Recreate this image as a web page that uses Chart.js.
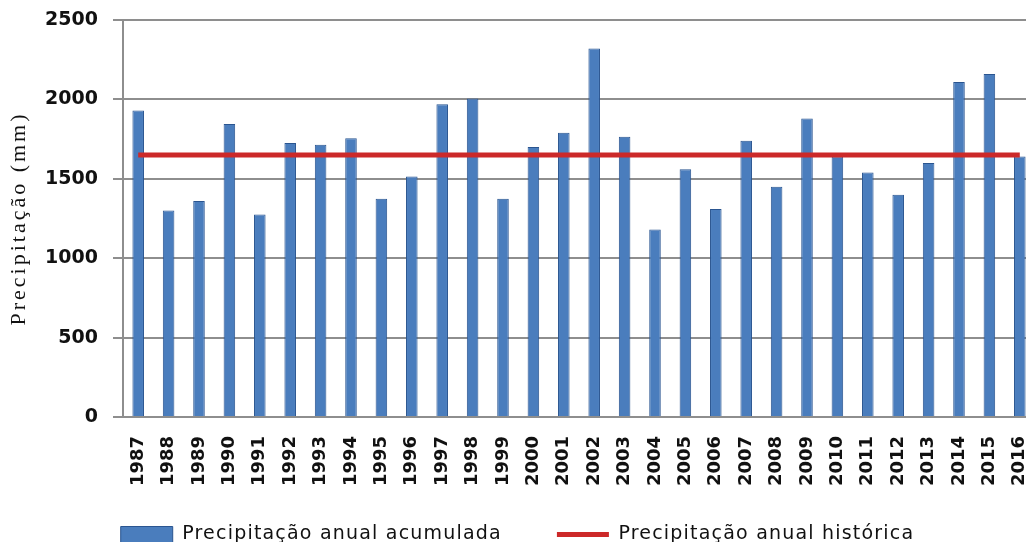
<!DOCTYPE html>
<html>
<head>
<meta charset="utf-8">
<script src="https://cdn.jsdelivr.net/npm/chart.js@4.4.1/dist/chart.umd.min.js"></script>
<style>
  html, body { margin: 0; padding: 0; background: #fff; width: 1026px; height: 542px; overflow: hidden; }
  canvas { display: block; }
</style>
</head>
<body>
<canvas id="chart" width="1040" height="554"></canvas>
<script>
// Annual rainfall, 1987–2016
const years = ['1987','1988','1989','1990','1991','1992','1993','1994','1995','1996',
               '1997','1998','1999','2000','2001','2002','2003','2004','2005','2006',
               '2007','2008','2009','2010','2011','2012','2013','2014','2015','2016'];

// accumulated annual precipitation (mm)
const accumulated = [1930, 1300, 1360, 1845, 1275, 1725, 1715, 1755, 1375, 1515,
                     1970, 2005, 1375, 1700, 1790, 2320, 1765, 1180, 1560, 1310,
                     1740, 1450, 1880, 1640, 1540, 1400, 1600, 2110, 2160, 1640];

// long-term (historical) annual mean (mm), one value per year
const historical = [1650, 1650, 1650, 1650, 1650, 1650, 1650, 1650, 1650, 1650,
                    1650, 1650, 1650, 1650, 1650, 1650, 1650, 1650, 1650, 1650,
                    1650, 1650, 1650, 1650, 1650, 1650, 1650, 1650, 1650, 1650];

const yTicks = [0, 500, 1000, 1500, 2000, 2500];

const BAR_FILL = '#4a7dbd';
const BAR_EDGE = '#2a5590';
const LINE_RED = '#cc2929';
const GRID = '#8e8e8e';
const TEXT = '#111111';

// run fn with a temporary canvas letter spacing
function withSpacing(ctx, spacing, fn) {
  const prev = ctx.letterSpacing;
  ctx.letterSpacing = spacing;
  try { return fn(); } finally { ctx.letterSpacing = prev || '0px'; }
}

// wider letter spacing for the y title and the legend; year labels may
// run into the (empty) upper part of the legend box
const textTweaks = {
  id: 'textTweaks',
  beforeUpdate(chart) {
    const lg = chart.legend;
    if (lg && !lg.__spaced) {
      const fit = lg.fit.bind(lg);
      const draw = lg.draw.bind(lg);
      lg.fit = () => withSpacing(chart.ctx, '1.2px', fit);
      lg.draw = () => withSpacing(chart.ctx, '1.2px', draw);
      lg.__spaced = true;
    }
  },
  beforeDraw(chart) {
    const y = chart.scales.y;
    if (y && !y.__spaced) {
      const drawTitle = y.drawTitle.bind(y);
      y.drawTitle = () => withSpacing(chart.ctx, '3px', drawTitle);
      y.__spaced = true;
    }
    const x = chart.scales.x;
    if (x) x._computeLabelArea = () => undefined;
  }
};

new Chart(document.getElementById('chart'), {
  data: {
    labels: years,
    datasets: [
      {
        type: 'bar',
        label: 'Precipitação anual acumulada',
        data: accumulated,
        backgroundColor: BAR_FILL,
        borderColor: BAR_EDGE,
        borderWidth: 1,
        categoryPercentage: 1.0,
        barPercentage: 0.38,
        order: 1
      },
      {
        type: 'line',
        label: 'Precipitação anual histórica',
        data: historical,
        borderColor: LINE_RED,
        backgroundColor: LINE_RED,
        borderWidth: 5,
        pointRadius: 0,
        tension: 0,
        order: 0
      }
    ]
  },
  plugins: [textTweaks],
  options: {
    responsive: false,
    animation: false,
    events: [],
    layout: { padding: { left: 0, right: 5, top: 0, bottom: 0 } },
    scales: {
      x: {
        type: 'category',
        offset: true,
        afterFit(scale) {
          scale.height = 53;
          scale.paddingLeft = 0;
          scale.paddingRight = 0;
        },
        grid: { display: false, drawTicks: false },
        border: { display: true, color: GRID, width: 2 },
        ticks: {
          minRotation: 90,
          maxRotation: 90,
          autoSkip: false,
          padding: 19,
          color: TEXT,
          font: { family: 'DejaVu Sans', size: 18, weight: 'bold' }
        }
      },
      y: {
        min: 0,
        max: 2500,
        afterBuildTicks(scale) { scale.ticks = yTicks.map(v => ({ value: v })); },
        afterFit(scale) {
          scale.width = 123;
          scale.paddingTop = 20;
          scale.paddingBottom = 0;
        },
        grid: { color: GRID, lineWidth: 2, drawTicks: true, tickLength: 10 },
        border: { display: true, color: GRID, width: 2 },
        ticks: {
          padding: 15,
          color: TEXT,
          font: { family: 'DejaVu Sans', size: 19, weight: 'bold' },
          callback: v => String(v)
        },
        title: {
          display: true,
          text: 'Precipitação (mm)',
          color: TEXT,
          padding: { top: 6, bottom: 0 },
          font: { family: 'Liberation Serif', size: 22 }
        }
      }
    },
    plugins: {
      tooltip: { enabled: false },
      legend: {
        position: 'bottom',
        labels: {
          color: TEXT,
          font: { family: 'DejaVu Sans', size: 19 },
          usePointStyle: true,
          pointStyleWidth: 52,
          boxHeight: 16,
          padding: 55,
          sort: (a, b) => a.datasetIndex - b.datasetIndex,
          generateLabels(chart) {
            const items = Chart.defaults.plugins.legend.labels.generateLabels(chart);
            items.forEach(it => {
              if (it.datasetIndex === 1) {
                it.pointStyle = 'line';
                it.strokeStyle = LINE_RED;
                it.lineWidth = 5;
              } else {
                it.pointStyle = 'rect';
                it.fillStyle = BAR_FILL;
                it.strokeStyle = BAR_EDGE;
                it.lineWidth = 1;
              }
            });
            return items;
          }
        }
      }
    }
  }
});
</script>
</body>
</html>
